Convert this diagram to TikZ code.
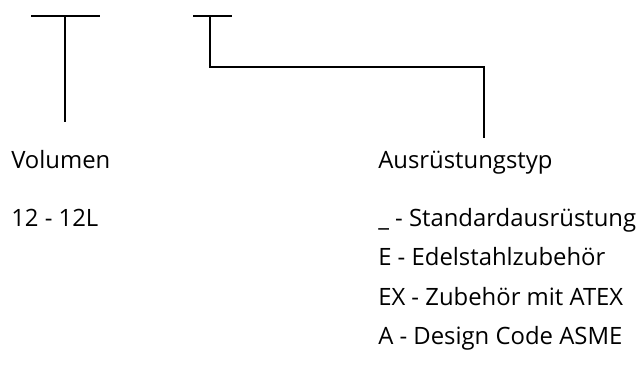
\documentclass[tikz,border=0pt]{standalone}
\usepackage{fontspec}
\setmainfont{Open Sans}
\begin{document}
\begin{tikzpicture}[x=0.75pt,y=-0.75pt,
  lbl/.style={anchor=base west,inner sep=0pt,font=\fontsize{17.9pt}{21pt}\selectfont},
  bar/.style={line width=1.6pt,line cap=butt,line join=miter}]
\useasboundingbox (0,0) rectangle (641,367);
% left T
\coordinate (a1) at (31,16);
\coordinate (a2) at (100,16);
\coordinate (a3) at (65,16);
\coordinate (a4) at (65,122);
\draw[bar] (a1) -- (a2);
\draw[bar] (a3) -- (a4);
% right bracket
\coordinate (b1) at (193,16);
\coordinate (b2) at (232,16);
\coordinate (b3) at (210,16);
\coordinate (b4) at (210,67);
\coordinate (b5) at (484,67);
\coordinate (b6) at (484,138);
\draw[bar] (b1) -- (b2);
\draw[bar] (b3) -- (b4) -- (b5) -- (b6);
% texts
\node[lbl] (vol) at (11,168) {Volumen};
\node[lbl] (volv) at (11,226.5) {12 - 12L};
\node[lbl] (typ) at (378,168) {Ausrüstungstyp};
\node[lbl] (t1) at (378,226) {\_ - Standardausrüstung};
\node[lbl] (t2) at (378,265.5) {E - Edelstahlzubehör};
\node[lbl] (t3) at (378,305) {EX - Zubehör mit ATEX};
\node[lbl] (t4) at (378,344.5) {A - Design Code ASME};
\end{tikzpicture}
\end{document}
